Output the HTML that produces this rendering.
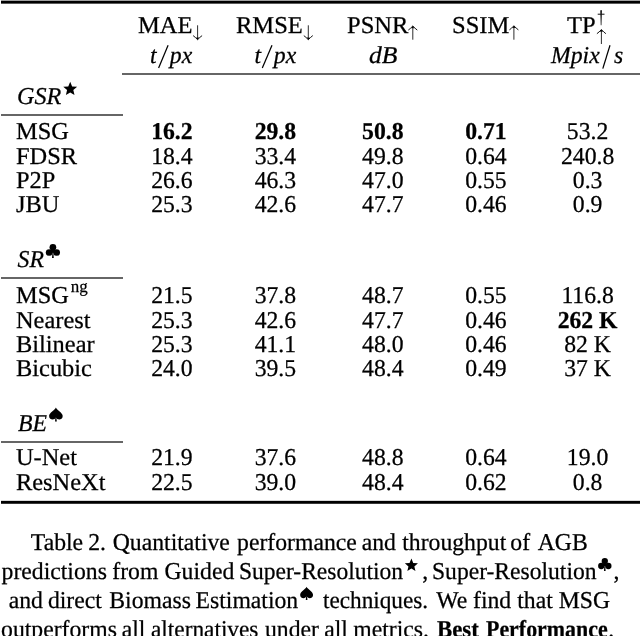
<!DOCTYPE html>
<html><head><meta charset="utf-8"><style>
html,body{margin:0;padding:0;background:#fff;width:640px;height:636px;overflow:hidden;position:relative}
.t{position:absolute;font-family:"Liberation Serif",serif;white-space:nowrap;color:#000;text-rendering:geometricPrecision;-webkit-text-stroke:0.25px #000}
.i{font-style:italic}
.b{font-weight:bold}
.r{position:absolute}
svg{position:absolute;left:0;top:0}
.w{position:absolute;left:0;top:0;width:640px;height:636px;will-change:transform}
</style></head><body>
<div class="w">
<div class="r" style="left:1px;top:0px;width:639px;height:1px;background:#a0a0a0"></div>
<div class="r" style="left:1px;top:1px;width:639px;height:2px;background:#000"></div>
<div class="r" style="left:1px;top:3px;width:639px;height:1px;background:#5a5a5a"></div>
<div class="r" style="left:122px;top:73px;width:518px;height:2px;background:#666"></div>
<div class="r" style="left:1px;top:114px;width:122px;height:2px;background:#666"></div>
<div class="r" style="left:1px;top:277px;width:122px;height:2px;background:#666"></div>
<div class="r" style="left:1px;top:441px;width:122px;height:2px;background:#666"></div>
<div class="r" style="left:1px;top:500px;width:639px;height:1px;background:#d8d8d8"></div>
<div class="r" style="left:1px;top:501px;width:639px;height:2px;background:#000"></div>
<div class="r" style="left:1px;top:503px;width:639px;height:1px;background:#383838"></div>
<div class="t " style="left:138.00px;top:14.90px;font-size:23.7px;line-height:23.7px;transform:scale(1.035,1.02);transform-origin:0 18.10px;">MAE</div>
<div class="t " style="left:236.10px;top:14.90px;font-size:23.7px;line-height:23.7px;transform:scale(1.035,1.02);transform-origin:0 18.10px;">RMSE</div>
<div class="t " style="left:346.60px;top:14.90px;font-size:23.7px;line-height:23.7px;transform:scale(1.035,1.02);transform-origin:0 18.10px;">PSNR</div>
<div class="t " style="left:451.80px;top:14.90px;font-size:23.7px;line-height:23.7px;transform:scale(1.035,1.02);transform-origin:0 18.10px;">SSIM</div>
<div class="t " style="left:567.40px;top:14.90px;font-size:23.7px;line-height:23.7px;transform:scale(1.035,1.02);transform-origin:0 18.10px;">TP</div>
<div class="t i" style="left:150.00px;top:44.90px;font-size:23.7px;line-height:23.7px;transform:scaleY(1.02);transform-origin:0 18.10px;">t</div>
<div class="t i" style="left:169.80px;top:44.90px;font-size:23.7px;line-height:23.7px;transform:scaleY(1.02);transform-origin:0 18.10px;">px</div>
<div class="t i" style="left:254.40px;top:44.90px;font-size:23.7px;line-height:23.7px;transform:scaleY(1.02);transform-origin:0 18.10px;">t</div>
<div class="t i" style="left:273.80px;top:44.90px;font-size:23.7px;line-height:23.7px;transform:scaleY(1.02);transform-origin:0 18.10px;">px</div>
<div class="t i" style="left:369.20px;top:44.90px;font-size:23.7px;line-height:23.7px;transform:scale(1.08,1.02);transform-origin:0 18.10px;">dB</div>
<div class="t i" style="left:551.00px;top:44.90px;font-size:23.7px;line-height:23.7px;transform:scaleY(1.02);transform-origin:0 18.10px;">Mpix</div>
<div class="t i" style="left:614.00px;top:44.90px;font-size:23.7px;line-height:23.7px;transform:scaleY(1.02);transform-origin:0 18.10px;">s</div>
<div class="t i" style="left:17.00px;top:85.90px;font-size:23.7px;line-height:23.7px;transform:scale(1.02,1.02);transform-origin:0 18.10px;">GSR</div>
<div class="t " style="left:16.30px;top:120.90px;font-size:23.7px;line-height:23.7px;transform:scale(1.03,1.02);transform-origin:0 18.10px;">MSG</div>
<div class="t b" style="left:71.90px;top:120.90px;width:200px;text-align:center;font-size:23.7px;line-height:23.7px;transform:scaleY(1.02);transform-origin:100.0px 18.10px;">16.2</div>
<div class="t b" style="left:175.40px;top:120.90px;width:200px;text-align:center;font-size:23.7px;line-height:23.7px;transform:scaleY(1.02);transform-origin:100.0px 18.10px;">29.8</div>
<div class="t b" style="left:282.80px;top:120.90px;width:200px;text-align:center;font-size:23.7px;line-height:23.7px;transform:scaleY(1.02);transform-origin:100.0px 18.10px;">50.8</div>
<div class="t b" style="left:385.90px;top:120.90px;width:200px;text-align:center;font-size:23.7px;line-height:23.7px;transform:scaleY(1.02);transform-origin:100.0px 18.10px;">0.71</div>
<div class="t " style="left:487.60px;top:120.90px;width:200px;text-align:center;font-size:23.7px;line-height:23.7px;transform:scaleY(1.02);transform-origin:100.0px 18.10px;">53.2</div>
<div class="t " style="left:16.30px;top:145.90px;font-size:23.7px;line-height:23.7px;transform:scale(1.03,1.02);transform-origin:0 18.10px;">FDSR</div>
<div class="t " style="left:71.90px;top:145.90px;width:200px;text-align:center;font-size:23.7px;line-height:23.7px;transform:scaleY(1.02);transform-origin:100.0px 18.10px;">18.4</div>
<div class="t " style="left:175.40px;top:145.90px;width:200px;text-align:center;font-size:23.7px;line-height:23.7px;transform:scaleY(1.02);transform-origin:100.0px 18.10px;">33.4</div>
<div class="t " style="left:282.80px;top:145.90px;width:200px;text-align:center;font-size:23.7px;line-height:23.7px;transform:scaleY(1.02);transform-origin:100.0px 18.10px;">49.8</div>
<div class="t " style="left:385.90px;top:145.90px;width:200px;text-align:center;font-size:23.7px;line-height:23.7px;transform:scaleY(1.02);transform-origin:100.0px 18.10px;">0.64</div>
<div class="t " style="left:487.60px;top:145.90px;width:200px;text-align:center;font-size:23.7px;line-height:23.7px;transform:scaleY(1.02);transform-origin:100.0px 18.10px;">240.8</div>
<div class="t " style="left:16.30px;top:169.90px;font-size:23.7px;line-height:23.7px;transform:scale(1.03,1.02);transform-origin:0 18.10px;">P2P</div>
<div class="t " style="left:71.90px;top:169.90px;width:200px;text-align:center;font-size:23.7px;line-height:23.7px;transform:scaleY(1.02);transform-origin:100.0px 18.10px;">26.6</div>
<div class="t " style="left:175.40px;top:169.90px;width:200px;text-align:center;font-size:23.7px;line-height:23.7px;transform:scaleY(1.02);transform-origin:100.0px 18.10px;">46.3</div>
<div class="t " style="left:282.80px;top:169.90px;width:200px;text-align:center;font-size:23.7px;line-height:23.7px;transform:scaleY(1.02);transform-origin:100.0px 18.10px;">47.0</div>
<div class="t " style="left:385.90px;top:169.90px;width:200px;text-align:center;font-size:23.7px;line-height:23.7px;transform:scaleY(1.02);transform-origin:100.0px 18.10px;">0.55</div>
<div class="t " style="left:487.60px;top:169.90px;width:200px;text-align:center;font-size:23.7px;line-height:23.7px;transform:scaleY(1.02);transform-origin:100.0px 18.10px;">0.3</div>
<div class="t " style="left:16.30px;top:193.90px;font-size:23.7px;line-height:23.7px;transform:scale(1.03,1.02);transform-origin:0 18.10px;">JBU</div>
<div class="t " style="left:71.90px;top:193.90px;width:200px;text-align:center;font-size:23.7px;line-height:23.7px;transform:scaleY(1.02);transform-origin:100.0px 18.10px;">25.3</div>
<div class="t " style="left:175.40px;top:193.90px;width:200px;text-align:center;font-size:23.7px;line-height:23.7px;transform:scaleY(1.02);transform-origin:100.0px 18.10px;">42.6</div>
<div class="t " style="left:282.80px;top:193.90px;width:200px;text-align:center;font-size:23.7px;line-height:23.7px;transform:scaleY(1.02);transform-origin:100.0px 18.10px;">47.7</div>
<div class="t " style="left:385.90px;top:193.90px;width:200px;text-align:center;font-size:23.7px;line-height:23.7px;transform:scaleY(1.02);transform-origin:100.0px 18.10px;">0.46</div>
<div class="t " style="left:487.60px;top:193.90px;width:200px;text-align:center;font-size:23.7px;line-height:23.7px;transform:scaleY(1.02);transform-origin:100.0px 18.10px;">0.9</div>
<div class="t i" style="left:17.60px;top:248.90px;font-size:23.7px;line-height:23.7px;transform:scaleY(1.02);transform-origin:0 18.10px;">SR</div>
<div class="t " style="left:16.30px;top:284.90px;font-size:23.7px;line-height:23.7px;transform:scale(1.03,1.02);transform-origin:0 18.10px;">MSG</div>
<div class="t " style="left:71.90px;top:284.90px;width:200px;text-align:center;font-size:23.7px;line-height:23.7px;transform:scaleY(1.02);transform-origin:100.0px 18.10px;">21.5</div>
<div class="t " style="left:175.40px;top:284.90px;width:200px;text-align:center;font-size:23.7px;line-height:23.7px;transform:scaleY(1.02);transform-origin:100.0px 18.10px;">37.8</div>
<div class="t " style="left:282.80px;top:284.90px;width:200px;text-align:center;font-size:23.7px;line-height:23.7px;transform:scaleY(1.02);transform-origin:100.0px 18.10px;">48.7</div>
<div class="t " style="left:385.90px;top:284.90px;width:200px;text-align:center;font-size:23.7px;line-height:23.7px;transform:scaleY(1.02);transform-origin:100.0px 18.10px;">0.55</div>
<div class="t " style="left:487.60px;top:284.90px;width:200px;text-align:center;font-size:23.7px;line-height:23.7px;transform:scaleY(1.02);transform-origin:100.0px 18.10px;">116.8</div>
<div class="t " style="left:70.70px;top:277.71px;font-size:17px;line-height:17px;transform:scaleY(1.02);transform-origin:0 12.49px;">ng</div>
<div class="t " style="left:16.30px;top:309.90px;font-size:23.7px;line-height:23.7px;transform:scale(1.03,1.02);transform-origin:0 18.10px;">Nearest</div>
<div class="t " style="left:71.90px;top:309.90px;width:200px;text-align:center;font-size:23.7px;line-height:23.7px;transform:scaleY(1.02);transform-origin:100.0px 18.10px;">25.3</div>
<div class="t " style="left:175.40px;top:309.90px;width:200px;text-align:center;font-size:23.7px;line-height:23.7px;transform:scaleY(1.02);transform-origin:100.0px 18.10px;">42.6</div>
<div class="t " style="left:282.80px;top:309.90px;width:200px;text-align:center;font-size:23.7px;line-height:23.7px;transform:scaleY(1.02);transform-origin:100.0px 18.10px;">47.7</div>
<div class="t " style="left:385.90px;top:309.90px;width:200px;text-align:center;font-size:23.7px;line-height:23.7px;transform:scaleY(1.02);transform-origin:100.0px 18.10px;">0.46</div>
<div class="t b" style="left:487.60px;top:309.90px;width:200px;text-align:center;font-size:23.7px;line-height:23.7px;transform:scaleY(1.02);transform-origin:100.0px 18.10px;">262 K</div>
<div class="t " style="left:16.30px;top:333.90px;font-size:23.7px;line-height:23.7px;transform:scale(1.03,1.02);transform-origin:0 18.10px;">Bilinear</div>
<div class="t " style="left:71.90px;top:333.90px;width:200px;text-align:center;font-size:23.7px;line-height:23.7px;transform:scaleY(1.02);transform-origin:100.0px 18.10px;">25.3</div>
<div class="t " style="left:175.40px;top:333.90px;width:200px;text-align:center;font-size:23.7px;line-height:23.7px;transform:scaleY(1.02);transform-origin:100.0px 18.10px;">41.1</div>
<div class="t " style="left:282.80px;top:333.90px;width:200px;text-align:center;font-size:23.7px;line-height:23.7px;transform:scaleY(1.02);transform-origin:100.0px 18.10px;">48.0</div>
<div class="t " style="left:385.90px;top:333.90px;width:200px;text-align:center;font-size:23.7px;line-height:23.7px;transform:scaleY(1.02);transform-origin:100.0px 18.10px;">0.46</div>
<div class="t " style="left:487.60px;top:333.90px;width:200px;text-align:center;font-size:23.7px;line-height:23.7px;transform:scaleY(1.02);transform-origin:100.0px 18.10px;">82 K</div>
<div class="t " style="left:16.30px;top:357.90px;font-size:23.7px;line-height:23.7px;transform:scale(1.03,1.02);transform-origin:0 18.10px;">Bicubic</div>
<div class="t " style="left:71.90px;top:357.90px;width:200px;text-align:center;font-size:23.7px;line-height:23.7px;transform:scaleY(1.02);transform-origin:100.0px 18.10px;">24.0</div>
<div class="t " style="left:175.40px;top:357.90px;width:200px;text-align:center;font-size:23.7px;line-height:23.7px;transform:scaleY(1.02);transform-origin:100.0px 18.10px;">39.5</div>
<div class="t " style="left:282.80px;top:357.90px;width:200px;text-align:center;font-size:23.7px;line-height:23.7px;transform:scaleY(1.02);transform-origin:100.0px 18.10px;">48.4</div>
<div class="t " style="left:385.90px;top:357.90px;width:200px;text-align:center;font-size:23.7px;line-height:23.7px;transform:scaleY(1.02);transform-origin:100.0px 18.10px;">0.49</div>
<div class="t " style="left:487.60px;top:357.90px;width:200px;text-align:center;font-size:23.7px;line-height:23.7px;transform:scaleY(1.02);transform-origin:100.0px 18.10px;">37 K</div>
<div class="t i" style="left:18.10px;top:412.90px;font-size:23.7px;line-height:23.7px;transform:scaleY(1.02);transform-origin:0 18.10px;">BE</div>
<div class="t " style="left:16.30px;top:446.90px;font-size:23.7px;line-height:23.7px;transform:scale(1.03,1.02);transform-origin:0 18.10px;">U-Net</div>
<div class="t " style="left:71.90px;top:446.90px;width:200px;text-align:center;font-size:23.7px;line-height:23.7px;transform:scaleY(1.02);transform-origin:100.0px 18.10px;">21.9</div>
<div class="t " style="left:175.40px;top:446.90px;width:200px;text-align:center;font-size:23.7px;line-height:23.7px;transform:scaleY(1.02);transform-origin:100.0px 18.10px;">37.6</div>
<div class="t " style="left:282.80px;top:446.90px;width:200px;text-align:center;font-size:23.7px;line-height:23.7px;transform:scaleY(1.02);transform-origin:100.0px 18.10px;">48.8</div>
<div class="t " style="left:385.90px;top:446.90px;width:200px;text-align:center;font-size:23.7px;line-height:23.7px;transform:scaleY(1.02);transform-origin:100.0px 18.10px;">0.64</div>
<div class="t " style="left:487.60px;top:446.90px;width:200px;text-align:center;font-size:23.7px;line-height:23.7px;transform:scaleY(1.02);transform-origin:100.0px 18.10px;">19.0</div>
<div class="t " style="left:16.30px;top:471.90px;font-size:23.7px;line-height:23.7px;transform:scale(1.03,1.02);transform-origin:0 18.10px;">ResNeXt</div>
<div class="t " style="left:71.90px;top:471.90px;width:200px;text-align:center;font-size:23.7px;line-height:23.7px;transform:scaleY(1.02);transform-origin:100.0px 18.10px;">22.5</div>
<div class="t " style="left:175.40px;top:471.90px;width:200px;text-align:center;font-size:23.7px;line-height:23.7px;transform:scaleY(1.02);transform-origin:100.0px 18.10px;">39.0</div>
<div class="t " style="left:282.80px;top:471.90px;width:200px;text-align:center;font-size:23.7px;line-height:23.7px;transform:scaleY(1.02);transform-origin:100.0px 18.10px;">48.4</div>
<div class="t " style="left:385.90px;top:471.90px;width:200px;text-align:center;font-size:23.7px;line-height:23.7px;transform:scaleY(1.02);transform-origin:100.0px 18.10px;">0.62</div>
<div class="t " style="left:487.60px;top:471.90px;width:200px;text-align:center;font-size:23.7px;line-height:23.7px;transform:scaleY(1.02);transform-origin:100.0px 18.10px;">0.8</div>
<div class="t " style="left:30.82px;top:531.90px;font-size:23.7px;line-height:23.7px;transform:scaleY(1.02);transform-origin:0 18.10px;">Table</div>
<div class="t " style="left:88.21px;top:531.90px;font-size:23.7px;line-height:23.7px;transform:scaleY(1.02);transform-origin:0 18.10px;">2.</div>
<div class="t " style="left:112.78px;top:531.90px;font-size:23.7px;line-height:23.7px;transform:scaleY(1.02);transform-origin:0 18.10px;">Quantitative</div>
<div class="t " style="left:237.12px;top:531.90px;font-size:23.7px;line-height:23.7px;transform:scaleY(1.02);transform-origin:0 18.10px;">performance</div>
<div class="t " style="left:361.67px;top:531.90px;font-size:23.7px;line-height:23.7px;transform:scaleY(1.02);transform-origin:0 18.10px;">and</div>
<div class="t " style="left:402.27px;top:531.90px;font-size:23.7px;line-height:23.7px;transform:scaleY(1.02);transform-origin:0 18.10px;">throughput</div>
<div class="t " style="left:510.35px;top:531.90px;font-size:23.7px;line-height:23.7px;transform:scaleY(1.02);transform-origin:0 18.10px;">of</div>
<div class="t " style="left:537.77px;top:531.90px;font-size:23.7px;line-height:23.7px;transform:scaleY(1.02);transform-origin:0 18.10px;">AGB</div>
<div class="t " style="left:1.62px;top:560.90px;font-size:23.7px;line-height:23.7px;transform:scaleY(1.02);transform-origin:0 18.10px;">predictions</div>
<div class="t " style="left:112.27px;top:560.90px;font-size:23.7px;line-height:23.7px;transform:scaleY(1.02);transform-origin:0 18.10px;">from</div>
<div class="t " style="left:164.53px;top:560.90px;font-size:23.7px;line-height:23.7px;transform:scaleY(1.02);transform-origin:0 18.10px;">Guided</div>
<div class="t " style="left:238.93px;top:560.90px;font-size:23.7px;line-height:23.7px;transform:scale(0.992,1.02);transform-origin:0 18.10px;">Super-Resolution</div>
<div class="t " style="left:422.30px;top:560.90px;font-size:23.7px;line-height:23.7px;transform:scaleY(1.02);transform-origin:0 18.10px;">,</div>
<div class="t " style="left:432.17px;top:560.90px;font-size:23.7px;line-height:23.7px;transform:scale(0.995,1.02);transform-origin:0 18.10px;">Super-Resolution</div>
<div class="t " style="left:613.60px;top:560.90px;font-size:23.7px;line-height:23.7px;transform:scaleY(1.02);transform-origin:0 18.10px;">,</div>
<div class="t " style="left:8.67px;top:589.90px;font-size:23.7px;line-height:23.7px;transform:scaleY(1.02);transform-origin:0 18.10px;">and</div>
<div class="t " style="left:47.89px;top:589.90px;font-size:23.7px;line-height:23.7px;transform:scaleY(1.02);transform-origin:0 18.10px;">direct</div>
<div class="t " style="left:109.32px;top:589.90px;font-size:23.7px;line-height:23.7px;transform:scaleY(1.02);transform-origin:0 18.10px;">Biomass</div>
<div class="t " style="left:195.57px;top:589.90px;font-size:23.7px;line-height:23.7px;transform:scaleY(1.02);transform-origin:0 18.10px;">Estimation</div>
<div class="t " style="left:322.77px;top:589.90px;font-size:23.7px;line-height:23.7px;transform:scale(0.98,1.02);transform-origin:0 18.10px;">techniques.</div>
<div class="t " style="left:436.28px;top:589.90px;font-size:23.7px;line-height:23.7px;transform:scaleY(1.02);transform-origin:0 18.10px;">We</div>
<div class="t " style="left:473.02px;top:589.90px;font-size:23.7px;line-height:23.7px;transform:scaleY(1.02);transform-origin:0 18.10px;">find</div>
<div class="t " style="left:517.27px;top:589.90px;font-size:23.7px;line-height:23.7px;transform:scaleY(1.02);transform-origin:0 18.10px;">that</div>
<div class="t " style="left:558.82px;top:589.90px;font-size:23.7px;line-height:23.7px;transform:scaleY(1.02);transform-origin:0 18.10px;">MSG</div>
<div class="t " style="left:1.10px;top:618.90px;font-size:23.7px;line-height:23.7px;transform:scaleY(1.02);transform-origin:0 18.10px;">outperforms</div>
<div class="t " style="left:121.67px;top:618.90px;font-size:23.7px;line-height:23.7px;transform:scaleY(1.02);transform-origin:0 18.10px;">all</div>
<div class="t " style="left:151.08px;top:618.90px;font-size:23.7px;line-height:23.7px;transform:scale(0.984,1.02);transform-origin:0 18.10px;">alternatives</div>
<div class="t " style="left:264.99px;top:618.90px;font-size:23.7px;line-height:23.7px;transform:scaleY(1.02);transform-origin:0 18.10px;">under</div>
<div class="t " style="left:324.17px;top:618.90px;font-size:23.7px;line-height:23.7px;transform:scaleY(1.02);transform-origin:0 18.10px;">all</div>
<div class="t " style="left:353.25px;top:618.90px;font-size:23.7px;line-height:23.7px;transform:scaleY(1.02);transform-origin:0 18.10px;">metrics.</div>
<div class="t b" style="left:436.62px;top:618.90px;font-size:23.7px;line-height:23.7px;transform:scale(0.963,1.02);transform-origin:0 18.10px;">Best</div>
<div class="t b" style="left:485.88px;top:618.90px;font-size:23.7px;line-height:23.7px;transform:scale(0.925,1.02);transform-origin:0 18.10px;">Performance</div>
<div class="t " style="left:608.14px;top:618.90px;font-size:23.7px;line-height:23.7px;transform:scaleY(1.02);transform-origin:0 18.10px;">.</div>
<svg width="640" height="636" viewBox="0 0 640 636">
<path d="M197.6 25.3 L197.6 38.2" stroke="#222" stroke-width="0.95" fill="none"/>
<path d="M193.1 35.6 Q195.2 37.1 197.6 39.7 Q200.0 37.1 202.1 35.6" stroke="#111" stroke-width="1.0" fill="none"/>
<path d="M196.1 37.300000000000004 Q197.6 38.1 199.1 37.300000000000004 L197.6 40.0Z" fill="#000"/>
<path d="M308.3 25.3 L308.3 38.2" stroke="#222" stroke-width="0.95" fill="none"/>
<path d="M303.8 35.6 Q305.90000000000003 37.1 308.3 39.7 Q310.7 37.1 312.8 35.6" stroke="#111" stroke-width="1.0" fill="none"/>
<path d="M306.8 37.300000000000004 Q308.3 38.1 309.8 37.300000000000004 L308.3 40.0Z" fill="#000"/>
<path d="M412.8 39.7 L412.8 27.5" stroke="#222" stroke-width="0.95" fill="none"/>
<path d="M408.3 30.1 Q410.40000000000003 28.6 412.8 26.0 Q415.2 28.6 417.3 30.1" stroke="#111" stroke-width="1.0" fill="none"/>
<path d="M411.3 28.4 Q412.8 27.6 414.3 28.4 L412.8 25.7Z" fill="#000"/>
<path d="M513.9 39.7 L513.9 27.3" stroke="#222" stroke-width="0.95" fill="none"/>
<path d="M509.4 29.9 Q511.5 28.400000000000002 513.9 25.8 Q516.3 28.400000000000002 518.4 29.9" stroke="#111" stroke-width="1.0" fill="none"/>
<path d="M512.4 28.2 Q513.9 27.400000000000002 515.4 28.2 L513.9 25.5Z" fill="#000"/>
<path d="M600.25 10.4 Q601.1 9.5 601.95 10.4 L601.45 25.2 L600.75 25.2Z" fill="#111"/>
<path d="M597.7 13.7 L604.5 13.7 L604.5 14.7 L597.7 14.7Z" fill="#111"/>
<path d="M601.4 44.0 L601.4 31.1" stroke="#222" stroke-width="0.95" fill="none"/>
<path d="M596.9 33.7 Q599.0 32.2 601.4 29.6 Q603.8 32.2 605.9 33.7" stroke="#111" stroke-width="1.0" fill="none"/>
<path d="M599.9 32.0 Q601.4 31.200000000000003 602.9 32.0 L601.4 29.3Z" fill="#000"/>
<path d="M168.1 45.2 L158.6 68.1" stroke="#000" stroke-width="1.25"/>
<path d="M272.0 45.2 L262.3 68.1" stroke="#000" stroke-width="1.25"/>
<path d="M610.0 45.3 L602.8 68.6" stroke="#000" stroke-width="1.25"/>
<polygon points="70.20,81.80 72.13,86.44 77.14,86.84 73.32,90.12 74.49,95.01 70.20,92.38 65.91,95.01 67.08,90.12 63.26,86.84 68.27,86.44" fill="#000"/>
<circle cx="52.90" cy="247.25" r="3.35" fill="#000"/>
<circle cx="49.15" cy="252.50" r="3.35" fill="#000"/>
<circle cx="56.65" cy="252.50" r="3.35" fill="#000"/>
<path d="M50.90 249.90 L54.90 249.90 L54.90 252.90 L50.90 252.90Z" fill="#000"/>
<path d="M52.45 252.90 L53.35 252.90 L53.80 257.90 L52.00 257.90Z" fill="#000"/>
<path d="M55.90 407.40 C55.00 410.00 49.10 412.60 49.10 416.00 C49.10 418.60 51.10 419.40 52.50 419.40 C54.10 419.40 55.30 418.40 55.90 417.40 C56.50 418.40 57.70 419.40 59.30 419.40 C60.70 419.40 62.70 418.60 62.70 416.00 C62.70 412.60 56.80 410.00 55.90 407.40Z" fill="#000"/>
<path d="M55.45 417.40 L56.35 417.40 L56.80 421.40 L55.00 421.40Z" fill="#000"/>
<polygon points="411.40,558.60 413.23,562.99 417.96,563.37 414.35,566.46 415.46,571.08 411.40,568.61 407.34,571.08 408.45,566.46 404.84,563.37 409.57,562.99" fill="#000"/>
<circle cx="604.80" cy="561.06" r="3.16" fill="#000"/>
<circle cx="601.26" cy="566.01" r="3.16" fill="#000"/>
<circle cx="608.34" cy="566.01" r="3.16" fill="#000"/>
<path d="M602.91 563.56 L606.69 563.56 L606.69 566.39 L602.91 566.39Z" fill="#000"/>
<path d="M604.38 566.39 L605.22 566.39 L605.65 571.10 L603.95 571.10Z" fill="#000"/>
<path d="M306.60 586.75 C305.75 589.22 300.15 591.68 300.15 594.91 C300.15 597.37 302.05 598.13 303.38 598.13 C304.89 598.13 306.03 597.18 306.60 596.24 C307.17 597.18 308.31 598.13 309.83 598.13 C311.15 598.13 313.05 597.37 313.05 594.91 C313.05 591.68 307.45 589.22 306.60 586.75Z" fill="#000"/>
<path d="M306.17 596.24 L307.03 596.24 L307.45 600.03 L305.75 600.03Z" fill="#000"/>
</svg>
</div>
</body></html>
